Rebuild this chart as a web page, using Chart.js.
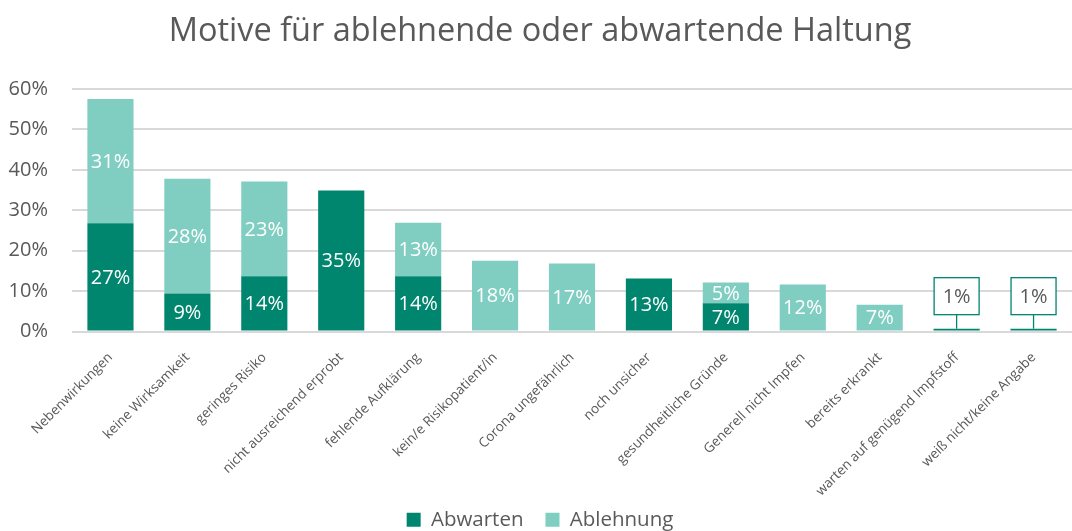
<!DOCTYPE html>
<html lang="de">
<head>
<meta charset="utf-8">
<title>Motive für ablehnende oder abwartende Haltung</title>
<script src="https://cdn.jsdelivr.net/npm/chart.js@4/dist/chart.umd.min.js"></script>
<style>
  html, body { margin: 0; padding: 0; background: #fff; }
  #wrap { width: 1072px; height: 531px; }
</style>
</head>
<body>
<div id="wrap"><canvas id="chart" width="1072" height="531"></canvas></div>
<script>
const categories = [
  "Nebenwirkungen",
  "keine Wirksamkeit",
  "geringes Risiko",
  "nicht ausreichend erprobt",
  "fehlende Aufklärung",
  "kein/e Risikopatient/in",
  "Corona ungefährlich",
  "noch unsicher",
  "gesundheitliche Gründe",
  "Generell nicht Impfen",
  "bereits erkrankt",
  "warten auf genügend Impfstoff",
  "weiß nicht/keine Angabe"
];
const abwarten = [26.8, 9.4, 13.7, 34.9, 13.7, 0, 0, 13.1, 7.0, 0, 0, 0.7, 0.7];
const ablehnung = [30.7, 28.4, 23.4, 0, 13.2, 17.5, 16.8, 0, 5.1, 11.6, 6.6, 0, 0];
const yTicks = [0, 10, 20, 30, 40, 50, 60];

const DARK = "#00856F";
const LIGHT = "#80CEC1";
const GREY = "#595959";
const FONT = "'Open Sans', sans-serif";

// Beschriftungen in den Balken, bei ganz kleinen Werten als Kasten darüber
const valueLabels = {
  id: "valueLabels",
  afterDatasetsDraw(chart) {
    const ctx = chart.ctx;
    ctx.save();
    ctx.font = "20px " + FONT;
    ctx.textAlign = "center";
    ctx.textBaseline = "middle";
    chart.data.datasets.forEach((ds, di) => {
      const meta = chart.getDatasetMeta(di);
      meta.data.forEach((bar, i) => {
        const v = ds.data[i];
        if (!v) return;
        const txt = Math.round(v) + "%";
        if (v >= 2) {
          ctx.fillStyle = "#fff";
          ctx.fillText(txt, bar.x, (bar.y + bar.base) / 2 + 1);
        } else {
          const w = 45, h = 37;
          const top = bar.y - 51;
          ctx.strokeStyle = DARK;
          ctx.lineWidth = 1.3;
          ctx.beginPath();
          ctx.moveTo(bar.x, top + h);
          ctx.lineTo(bar.x, bar.y);
          ctx.stroke();
          ctx.fillStyle = "#fff";
          ctx.fillRect(bar.x - w / 2, top, w, h);
          ctx.strokeRect(bar.x - w / 2, top, w, h);
          ctx.fillStyle = GREY;
          ctx.fillText(txt, bar.x, top + h / 2 + 1);
        }
      });
    });
    ctx.restore();
  }
};

new Chart(document.getElementById("chart"), {
  type: "bar",
  data: {
    labels: categories,
    datasets: [
      { label: "Abwarten", data: abwarten, backgroundColor: DARK, barPercentage: 0.6, categoryPercentage: 1 },
      { label: "Ablehnung", data: ablehnung, backgroundColor: LIGHT, barPercentage: 0.6, categoryPercentage: 1 }
    ]
  },
  options: {
    responsive: false,
    animation: false,
    layout: { padding: { left: 8, right: 0, top: 0, bottom: -9 } },
    scales: {
      x: {
        stacked: true,
        grid: { display: false },
        border: { display: false },
        // schräge Beschriftung darf über den Achsenbereich hinausragen
        afterFit: (axis) => {
          axis.paddingLeft = 0;
          axis.paddingRight = 0;
          axis.height = 156;
          axis._computeLabelArea = () => null;
        },
        ticks: {
          color: GREY,
          font: { family: FONT, size: 13.5 },
          minRotation: 45,
          maxRotation: 45,
          padding: 10
        }
      },
      y: {
        stacked: true,
        min: 0,
        max: 60,
        afterBuildTicks: (axis) => { axis.ticks = yTicks.map(v => ({ value: v })); },
        afterFit: (axis) => { axis.width = 64; },
        grid: { color: "#d9d9d9", lineWidth: 2, drawTicks: false },
        border: { display: false },
        ticks: {
          color: GREY,
          font: { family: FONT, size: 20 },
          padding: 24,
          callback: (v) => v + "%"
        }
      }
    },
    plugins: {
      title: {
        display: true,
        text: "Motive für ablehnende oder abwartende Haltung",
        color: GREY,
        font: { family: FONT, size: 32.5, weight: "normal" },
        padding: { top: 12, bottom: 38 }
      },
      legend: {
        position: "bottom",
        labels: {
          color: GREY,
          font: { family: FONT, size: 20.5 },
          boxWidth: 14,
          boxHeight: 14,
          padding: 22
        }
      },
      tooltip: { enabled: false }
    }
  },
  plugins: [valueLabels]
});
</script>
</body>
</html>
